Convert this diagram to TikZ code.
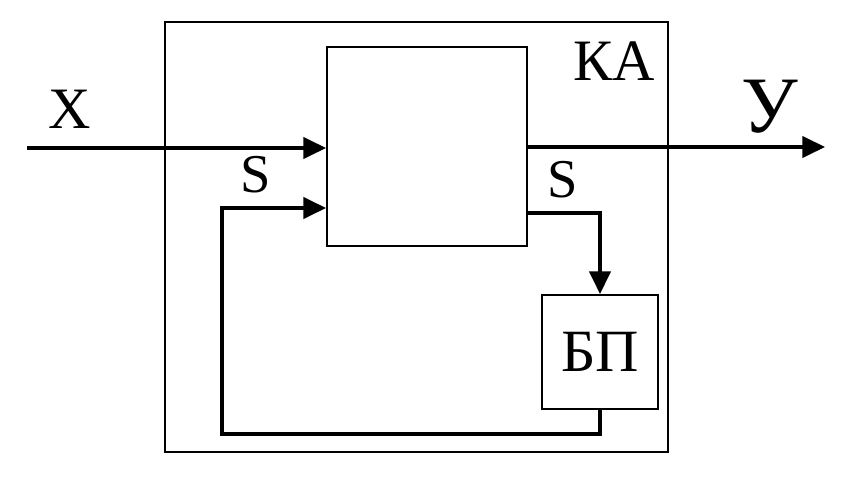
\documentclass[tikz,border=0pt]{standalone}
\usepackage{fontspec}
\setmainfont{LiberationSerif}[Extension=.ttf, UprightFont=*-Regular, BoldFont=*-Bold]
\newfontfamily\tnrfont{LiberationSerif}[Extension=.ttf, UprightFont=*-Regular]
\usetikzlibrary{arrows.meta}

\begin{document}
\begin{tikzpicture}[x=0.75pt, y=-0.75pt, >={Triangle[length=17pt,width=16pt]},
    box/.style={draw, line width=1.5pt, inner sep=0pt},
    flow/.style={->, line width=2.4pt},
    lbl/.style={inner sep=0pt, font=\tnrfont\fontsize{44}{48}\selectfont}]
    \useasboundingbox (0,0) rectangle (852,477);

    % внешний блок КА
    \node[box, minimum width=377.25pt, minimum height=322.5pt] (ka) at (416.5,237) {};
    \node[lbl] (kalbl) at (614,61) {КА};

    % комбинационная схема
    \node[box, minimum width=150pt, minimum height=149.25pt] (core) at (427,146.5) {};

    % блок памяти
    \node[box, minimum width=87pt, minimum height=85.5pt, font=\tnrfont\fontsize{45}{48}\selectfont] (bp) at (600,352) {БП};

    % вход и выход
    \coordinate (xin) at (27,148);
    \coordinate (yout) at (825,147);
    \draw[flow] (xin) -- (xin -| core.west);
    \draw[flow] (yout -| core.east) -- (yout);
    \node[lbl] (xlbl) at (70,109) {X};
    \node[lbl, font=\tnrfont\fontsize{60}{64}\selectfont] (ylbl) at (770,107) {У};

    % обратная связь
    \coordinate (fbout) at (527,213);
    \coordinate (fbin) at (222,208);
    \draw[flow] (fbout) -| (bp.north);
    \draw[flow] (bp.south) -- ++(0,24) -| (fbin) -- (fbin -| core.west);
    \node[lbl, font=\tnrfont\fontsize{41}{44}\selectfont] (sin) at (256,175) {S};
    \node[lbl, font=\tnrfont\fontsize{41}{44}\selectfont] (sout) at (563,180) {S};
\end{tikzpicture}
\end{document}
